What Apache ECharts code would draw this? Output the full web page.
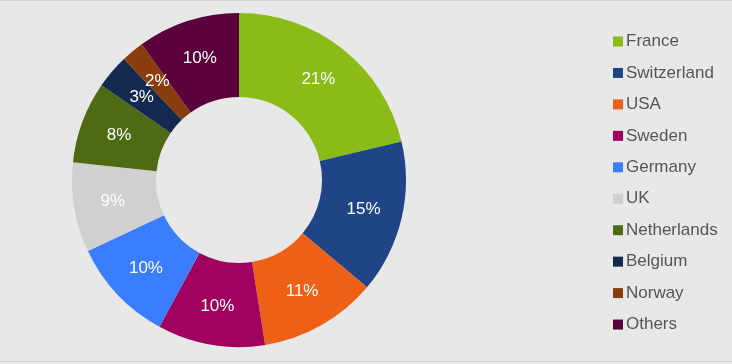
<!DOCTYPE html>
<html><head><meta charset="utf-8">
<script src="https://cdn.jsdelivr.net/npm/echarts@6/dist/echarts.min.js"></script>
<style>
html,body{margin:0;padding:0;background:#e8e8e8;}
#c{width:732px;height:362px;border-top:1px solid #d2d2d2;border-bottom:1px solid #d2d2d2;box-sizing:border-box;}
</style></head>
<body><div id="c"></div>
<script>
const categories = ["France","Switzerland","USA","Sweden","Germany","UK","Netherlands","Belgium","Norway","Others"];
const values = [21.3, 14.8, 11.4, 10.4, 10.1, 8.7, 7.9, 3.3, 2.2, 9.9];
const colors = ["#8abb17","#1f4587","#ee6016","#a0005e","#3b7dff","#d0d0d0","#4e6b14","#13294f","#8a3c0d","#5a003a"];

const chart = echarts.init(document.getElementById('c'), null, {renderer:'canvas'});
chart.setOption({
  backgroundColor: '#e8e8e8',
  animation: false,
  color: colors,
  legend: {
    orient: 'vertical',
    left: 608,
    top: 27,
    itemWidth: 10,
    itemHeight: 10,
    itemGap: 14.45,
    icon: 'rect',
    data: categories,
    textStyle: {fontFamily: 'Liberation Sans, Arial, sans-serif', fontSize: 17, color: '#555555', padding:[0,0,0,-2]}
  },
  series: [{
    type: 'pie',
    center: [239, 179],
    radius: [83, 167],
    startAngle: 90,
    clockwise: true,
    avoidLabelOverlap: false,
    minShowLabelAngle: 0,
    labelLayout: {hideOverlap: false},
    label: {
      show: true,
      position: 'inside',
      color: '#ffffff',
      fontSize: 17,
      fontWeight: 'normal',
      textBorderWidth: 0,
      fontFamily: 'Liberation Sans, Arial, sans-serif',
      formatter: p => Math.round(p.percent) + '%'
    },
    labelLine: {show: false},
    itemStyle: {borderWidth: 0},
    data: categories.map((n, i) => ({name: n, value: values[i]}))
  }]
});
</script></body></html>
